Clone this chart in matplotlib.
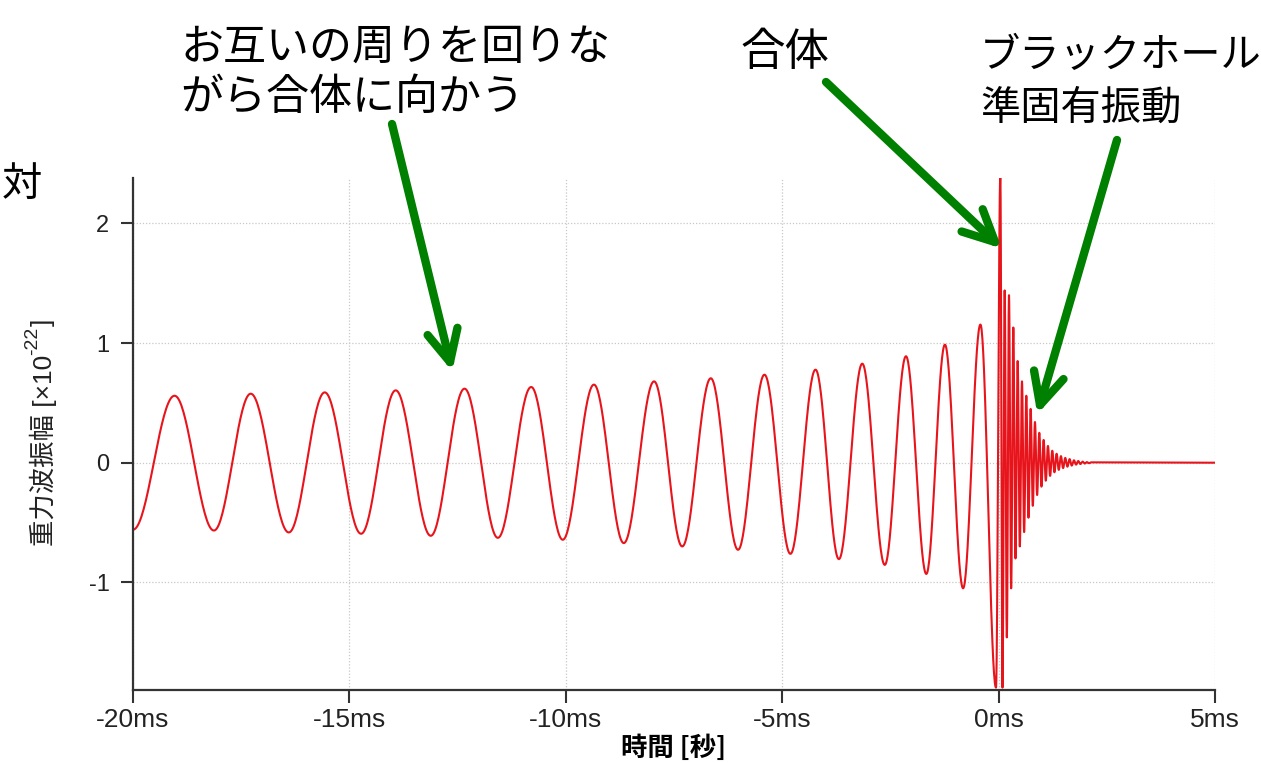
import numpy as np
import matplotlib.pyplot as plt
from matplotlib.lines import Line2D

plt.rcParams['font.family'] = ['Liberation Sans', 'Noto Sans CJK JP', 'DejaVu Sans']
plt.rcParams['axes.unicode_minus'] = False

# inspiral maxima / minima: time [ms], amplitude [x1e-22]
peak_t = [-19.04, -17.28, -15.57, -13.93, -12.34, -10.80, -9.35, -7.96,
          -6.65, -5.41, -4.23, -3.15, -2.14, -1.24, -0.42]
peak_h = [0.56, 0.577, 0.588, 0.605, 0.619, 0.633, 0.653, 0.68,
          0.706, 0.736, 0.778, 0.828, 0.89, 0.987, 1.155]
trough_t = [-20.0, -18.13, -16.40, -14.73, -13.12, -11.57, -10.07, -8.66,
            -7.31, -6.02, -4.81, -3.69, -2.63, -1.67, -0.82, -0.06]
trough_h = [-0.56, -0.567, -0.583, -0.594, -0.611, -0.628, -0.644, -0.672,
            -0.70, -0.728, -0.762, -0.806, -0.854, -0.93, -1.05, -1.88]

# merger spike and ringdown extrema
ring_t = [0.04, 0.09, 0.14, 0.19, 0.24, 0.29, 0.34, 0.39, 0.44, 0.49,
          0.54, 0.59, 0.64, 0.69, 0.74, 0.79, 0.84, 0.89, 0.94, 0.99,
          1.04, 1.09, 1.14, 1.19, 1.24, 1.29, 1.34, 1.39, 1.44, 1.49,
          1.54, 1.59, 1.64, 1.69, 1.74, 1.79, 1.84, 1.89, 1.94, 1.99,
          2.04, 2.09, 2.14, 5.0]
ring_h = [2.40, -1.88, 1.44, -1.46, 1.40, -1.05, 1.13, -0.80, 0.85, -0.70,
          0.68, -0.58, 0.56, -0.46, 0.45, -0.36, 0.34, -0.27, 0.25, -0.20,
          0.19, -0.15, 0.14, -0.11, 0.10, -0.08, 0.075, -0.06, 0.055, -0.045,
          0.04, -0.033, 0.03, -0.024, 0.02, -0.016, 0.014, -0.011, 0.009, -0.007,
          0.005, -0.004, 0.003, 0.0]

x_ticks = [-20, -15, -10, -5, 0, 5]
x_tick_labels = ['-20ms', '-15ms', '-10ms', '-5ms', '0ms', '5ms']
y_ticks = [-1, 0, 1, 2]

# join the extrema in time order and draw half-cosine arcs between them
ext = sorted(zip(peak_t + trough_t, peak_h + trough_h)) + list(zip(ring_t, ring_h))
tt, hh = [], []
for (t0, h0), (t1, h1) in zip(ext[:-1], ext[1:]):
    s = np.linspace(0, 1, 40)
    tt.append(t0 + (t1 - t0) * s)
    hh.append((h0 + h1) / 2 + (h0 - h1) / 2 * np.cos(np.pi * s))
tt = np.concatenate(tt)
hh = np.concatenate(hh)

W, H = 1261, 763
fig = plt.figure(figsize=(W / 100, H / 100), dpi=100)
ax = fig.add_axes([133 / W, 1 - 690 / H, (1215 - 133) / W, (690 - 178) / H])

ax.plot(tt, hh, color='#e8141c', lw=1.5)

ax.set_xlim(-20, 5)
ax.set_ylim(-1.9, 2.38)
ax.set_xticks(x_ticks)
ax.set_xticklabels(x_tick_labels)
ax.set_yticks(y_ticks)
ax.tick_params(axis='both', direction='out', length=9, width=1.5,
               color='#333333', labelcolor='#222222')
ax.tick_params(axis='x', labelsize=19, pad=4)
ax.tick_params(axis='y', labelsize=17, pad=8)
ax.grid(True, linestyle=(0, (1, 1.5)), color='#c8c8c8', lw=0.9)
ax.set_axisbelow(True)
for side in ['top', 'right']:
    ax.spines[side].set_visible(False)
for side in ['left', 'bottom']:
    ax.spines[side].set_linewidth(1.6)
    ax.spines[side].set_color('#333333')

ax.set_xlabel('時間 [秒]', fontsize=19, fontweight='bold', labelpad=2,
              family='Noto Sans CJK JP')


def fx(px):
    return px / W


def fy(py):
    return 1 - py / H


# y label built from pieces so the exponent can sit raised after "10"
ylab = fig.text(fx(43), fy(546), '重力波振幅 [×10', rotation=90, fontsize=19,
                ha='center', va='bottom', color='#222222')
ysup = ax.annotate('-22', xy=(0.42, 1.0), xycoords=ylab, rotation=90,
                   fontsize=14, ha='right', va='bottom', color='#222222',
                   annotation_clip=False)
ax.annotate(']', xy=(0.5, 1.0), xycoords=(ylab, ysup), rotation=90,
            fontsize=19, ha='center', va='bottom', color='#222222',
            annotation_clip=False)

green = '#008000'


def green_arrow(x0, y0, x1, y1, arm=35, ang=26):
    fig.add_artist(Line2D([fx(x0), fx(x1)], [fy(y0), fy(y1)],
                          transform=fig.transFigure, color=green, lw=6,
                          solid_capstyle='round'))
    d = np.array([x0 - x1, y0 - y1], dtype=float)
    d /= np.hypot(*d)
    for a in (ang, -ang):
        r = np.radians(a)
        v = np.array([d[0] * np.cos(r) - d[1] * np.sin(r),
                      d[0] * np.sin(r) + d[1] * np.cos(r)])
        ex, ey = x1 + arm * v[0], y1 + arm * v[1]
        fig.add_artist(Line2D([fx(x1), fx(ex)], [fy(y1), fy(ey)],
                              transform=fig.transFigure, color=green, lw=6,
                              solid_capstyle='round'))


def note(px, py, s, size):
    fig.text(fx(px), fy(py), s, fontsize=size, ha='left', va='baseline',
             color='black', family='Noto Sans CJK JP')


note(180, 60, 'お互いの周りを回りな', 31)
note(180, 110, 'がら合体に向かう', 31)
note(740, 65, '合体', 32)
note(980, 67, 'ブラックホール', 29)
note(980, 120, '準固有振動', 29)
note(2, 196, '対', 29)

green_arrow(392, 124, 450, 362)
green_arrow(826, 82, 995, 242)
green_arrow(1117, 140, 1040, 405)

fig.savefig('out.png', dpi=100, facecolor='white')
